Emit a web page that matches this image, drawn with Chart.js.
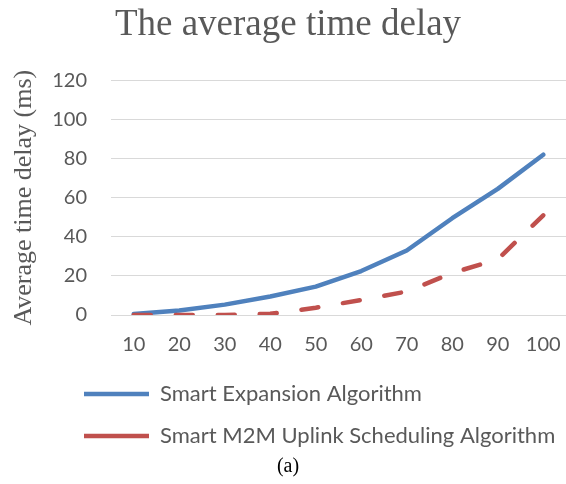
<!DOCTYPE html>
<html>
<head>
<meta charset="utf-8">
<script src="https://cdn.jsdelivr.net/npm/chart.js@4/dist/chart.umd.min.js"></script>
<style>
  html, body { margin: 0; padding: 0; background: #fff; }
  #wrap { width: 566px; height: 484px; }
</style>
</head>
<body>
<div id="wrap"><canvas id="myChart"></canvas></div>
<script>
let categories = ['10', '20', '30', '40', '50', '60', '70', '80', '90', '100'];
let expansionDelay = [0.5, 2.3, 5.3, 9.5, 14.5, 22.5, 33, 49.5, 64.5, 82];
let m2mDelay = [0, 0, 0, 0.6, 3.7, 7.7, 12, 21.5, 28.5, 51];

const gray = '#595959';
const sans = 'Lato';
const serif = '"Liberation Serif", "Times New Roman", serif';
const caption = '(a)';

// nudge the boxes a bit, excel puts them a little off center
const boxShift = {
    id: 'boxShift',
    afterLayout(chart) {
        chart.boxes.forEach(b => {
            if (b === chart.legend) {
                b.left += 64;
                b.right += 64;
                b.top += 2;
                b.bottom += 2;
            } else if (b === chart.titleBlock || (b.options && b.options.text === caption)) {
                b.left += 5;
                b.right += 5;
            }
        });
    }
};

const ctx = document.getElementById('myChart');
new Chart(ctx, {
    type: 'line',
    data: {
        labels: categories,
        datasets: [{
            label: 'Smart Expansion Algorithm',
            data: expansionDelay,
            borderColor: '#4F81BD',
            backgroundColor: '#4F81BD',
            borderWidth: 4.5,
            borderCapStyle: 'round',
            borderJoinStyle: 'round',
            pointRadius: 0,
            tension: 0,
            order: 2
        }, {
            label: 'Smart M2M Uplink Scheduling Algorithm',
            data: m2mDelay,
            borderColor: '#C0504D',
            backgroundColor: '#C0504D',
            borderWidth: 4.5,
            borderDash: [17, 25],
            borderCapStyle: 'round',
            pointRadius: 0,
            tension: 0,
            order: 1
        }]
    },
    options: {
        responsive: true,
        maintainAspectRatio: false,
        animation: false,
        layout: {
            padding: 0
        },
        scales: {
            x: {
                offset: true,
                grid: { display: false, drawTicks: false },
                border: { display: false },
                ticks: {
                    color: gray,
                    padding: 18,
                    font: { family: sans, size: 20 }
                },
                afterFit(scale) {
                    scale.height = 46;
                    scale.paddingLeft = 0;
                    scale.paddingRight = 0;
                }
            },
            y: {
                min: 0,
                max: 120,
                grid: { color: '#D9D9D9', lineWidth: 1, drawTicks: false },
                border: { display: false },
                ticks: {
                    stepSize: 20,
                    color: gray,
                    padding: 24,
                    font: { family: sans, size: 20 }
                },
                title: {
                    display: true,
                    text: 'Average time delay (ms)',
                    color: gray,
                    padding: { top: 9, bottom: 0 },
                    font: { family: serif, size: 26 }
                },
                afterFit(scale) {
                    scale.width = 111;
                }
            }
        },
        plugins: {
            title: {
                display: true,
                text: 'The average time delay',
                color: gray,
                padding: { top: 3, bottom: 33 },
                font: { family: serif, size: 37, weight: 'normal' }
            },
            subtitle: {
                display: true,
                position: 'bottom',
                text: caption,
                color: '#000',
                padding: { top: 0, bottom: 5 },
                font: { family: serif, size: 20 }
            },
            legend: {
                position: 'bottom',
                align: 'start',
                labels: {
                    usePointStyle: true,
                    pointStyle: 'line',
                    pointStyleWidth: 65,
                    padding: 20,
                    color: gray,
                    font: { family: sans, size: 22 },
                    sort: (a, b) => a.datasetIndex - b.datasetIndex
                }
            },
            tooltip: { enabled: false }
        }
    },
    plugins: [boxShift]
});
</script>
</body>
</html>
